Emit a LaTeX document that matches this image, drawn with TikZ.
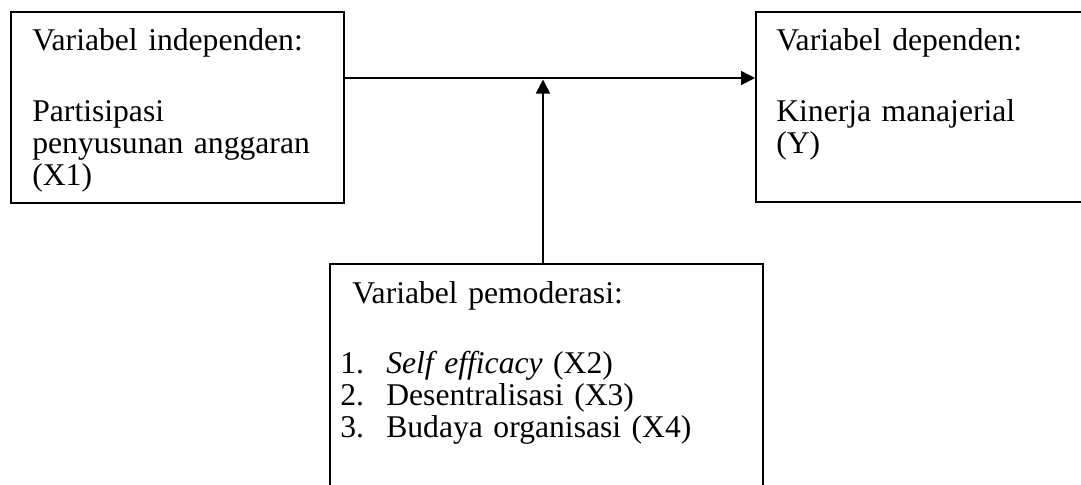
\documentclass[tikz,border=0pt]{standalone}
\usepackage{fontspec}
\setmainfont{Liberation Serif}
\usetikzlibrary{arrows.meta, positioning, calc}

\begin{document}
\begin{tikzpicture}[
    x=0.02cm, y=-0.02cm,
    box/.style={draw, line width=0.9pt, anchor=north west, inner sep=0pt},
    txt/.style={anchor=north west, align=left, inner sep=0pt, text width=6cm, font=\fontsize{18}{18.2}\selectfont},
    arrow/.style={-{Triangle[length=0.28cm, width=0.28cm]}, line width=0.9pt}
]
    \clip (0,0) rectangle (1081,484);

    % boxes
    \node[box, minimum width=6.66cm, minimum height=3.82cm] (indep) at (10,11) {};
    \node[box, minimum width=6.6cm, minimum height=3.8cm] (dep) at (755,11) {};
    \node[box, minimum width=8.66cm, minimum height=5cm] (mod) at (329,263) {};

    % texts
    \node[txt] (indeptxt) at (32,28) {Variabel independen:\\[0.78cm]Partisipasi\\penyusunan anggaran\\(X1)};
    \node[txt] (deptxt) at (776,28) {Variabel dependen:\\[0.78cm]Kinerja manajerial\\(Y)};
    \node[txt, text width=8cm] (modtxt) at (340,281) {\hspace*{0.24cm}Variabel pemoderasi:\\[0.76cm]
        \makebox[0.92cm][l]{1.}\textit{Self efficacy} (X2)\\
        \makebox[0.92cm][l]{2.}Desentralisasi (X3)\\
        \makebox[0.92cm][l]{3.}Budaya organisasi (X4)};

    % arrows
    \coordinate (junc) at (543,78);
    \draw[arrow] (indep.east |- junc) -- (dep.west |- junc);
    \draw[arrow] (mod.north -| junc) -- ([yshift=-0.03cm]junc);
\end{tikzpicture}
\end{document}
